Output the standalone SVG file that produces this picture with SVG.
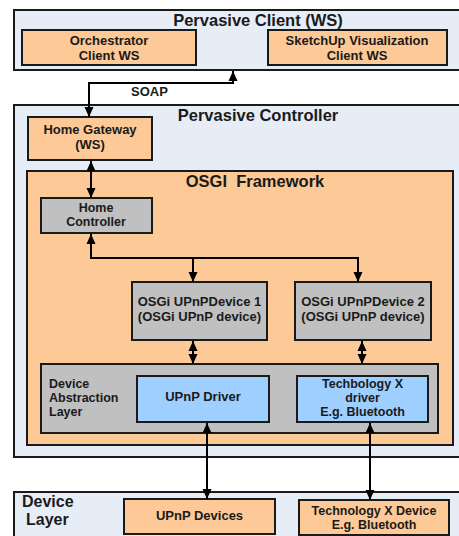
<svg xmlns="http://www.w3.org/2000/svg" width="459" height="536" viewBox="0 0 459 536">
<defs>
<style>
.bg{fill:#e6edf7;stroke:#1a1a1a;stroke-width:2}
.or{fill:#fdc996;stroke:#1a1a1a;stroke-width:2}
.gr{fill:#c0c0c0;stroke:#1a1a1a;stroke-width:2}
.bl{fill:#9fcfff;stroke:#1a1a1a;stroke-width:2}
text{font-family:"Liberation Sans",Arial,sans-serif;font-weight:bold;fill:#1a1a1a}
.t{font-size:16.5px;text-anchor:middle}
.b{font-size:13px;text-anchor:middle}
.s{font-size:12.5px;text-anchor:middle}
.l{font-size:12.5px}
.c{fill:none;stroke:#000;stroke-width:2}
</style>
<marker id="ah" markerUnits="userSpaceOnUse" markerWidth="10" markerHeight="10" viewBox="0 0 10 10" refX="10" refY="5" orient="auto-start-reverse">
<path d="M0,0.5 L10,5 L0,9.5 Z" fill="#000"/>
</marker>
</defs>
<rect width="459" height="536" fill="#fff"/>

<g id="pervasive-client">
<rect class="bg" x="14" y="10" width="455" height="60"/>
<text class="t" x="258" y="26">Pervasive Client (WS)</text>
</g>
<g id="orchestrator">
<rect class="or" x="22" y="30" width="174" height="35"/>
<text class="b" x="109" y="45">Orchestrator</text>
<text class="b" x="109" y="60">Client WS</text>
</g>
<g id="sketchup">
<rect class="or" x="268" y="30" width="179" height="35"/>
<text class="b" x="357" y="45">SketchUp Visualization</text>
<text class="b" x="357" y="60">Client WS</text>
</g>

<g id="pervasive-controller">
<rect class="bg" x="14" y="105" width="455" height="352"/>
<text class="t" x="258" y="121">Pervasive Controller</text>
</g>
<g id="home-gateway">
<rect class="or" x="28" y="117" width="124" height="43"/>
<text class="b" x="90" y="134">Home Gateway</text>
<text class="b" x="90" y="149">(WS)</text>
</g>
<g id="osgi-framework">
<rect class="or" x="27" y="171" width="426" height="274"/>
<text class="t" x="255" y="187" xml:space="preserve">OSGI  Framework</text>
</g>
<g id="home-controller">
<rect class="gr" x="41" y="198" width="111" height="35"/>
<text class="s" x="96" y="212">Home</text>
<text class="s" x="96" y="226">Controller</text>
</g>
<g id="upnp-device-1">
<rect class="gr" x="132" y="282" width="135" height="58"/>
<text class="b" x="199.5" y="306">OSGi UPnPDevice 1</text>
<text class="b" x="199.5" y="321">(OSGi UPnP device)</text>
</g>
<g id="upnp-device-2">
<rect class="gr" x="295" y="282" width="136" height="58"/>
<text class="b" x="363" y="306">OSGi UPnPDevice 2</text>
<text class="b" x="363" y="321">(OSGi UPnP device)</text>
</g>
<g id="device-abstraction-layer">
<rect class="gr" x="41" y="364" width="397" height="69"/>
<text class="l" x="49" y="388">Device</text>
<text class="l" x="49" y="402">Abstraction</text>
<text class="l" x="49" y="416">Layer</text>
</g>
<g id="upnp-driver">
<rect class="bl" x="137" y="376" width="132" height="46"/>
<text class="b" x="203" y="401">UPnP Driver</text>
</g>
<g id="techx-driver">
<rect class="bl" x="297" y="376" width="131" height="46"/>
<text class="s" x="362.5" y="388">Techbology X</text>
<text class="s" x="362.5" y="402">driver</text>
<text class="s" x="362.5" y="416">E.g. Bluetooth</text>
</g>

<g id="device-layer">
<rect class="bg" x="14" y="492" width="455" height="60"/>
<text x="22" y="507" style="font-size:16px">Device</text>
<text x="26" y="525" style="font-size:16px">Layer</text>
</g>
<g id="upnp-devices">
<rect class="or" x="124" y="499" width="151" height="35"/>
<text class="b" x="199.5" y="520">UPnP Devices</text>
</g>
<g id="techx-device">
<rect class="or" x="299" y="500" width="150" height="35"/>
<text class="s" x="374" y="515">Technology X Device</text>
<text class="s" x="374" y="529">E.g. Bluetooth</text>
</g>

<g id="connectors">
<polyline class="c" points="89,117 89,83 233,83 233,71" marker-start="url(#ah)" marker-end="url(#ah)"/>
<text class="l" x="131" y="96" style="font-size:13px">SOAP</text>
<line class="c" x1="91" y1="161" x2="91" y2="198" marker-start="url(#ah)" marker-end="url(#ah)"/>
<polyline class="c" points="91,234 91,258 193,258 193,282" marker-start="url(#ah)" marker-end="url(#ah)"/>
<polyline class="c" points="193,258 358,258 358,282" marker-end="url(#ah)"/>
<line class="c" x1="193" y1="341" x2="193" y2="364" marker-start="url(#ah)" marker-end="url(#ah)"/>
<line class="c" x1="362" y1="341" x2="362" y2="364" marker-start="url(#ah)" marker-end="url(#ah)"/>
<line class="c" x1="207" y1="423" x2="207" y2="499" marker-start="url(#ah)" marker-end="url(#ah)"/>
<line class="c" x1="370" y1="423" x2="370" y2="500" marker-start="url(#ah)" marker-end="url(#ah)"/>
</g>
</svg>
